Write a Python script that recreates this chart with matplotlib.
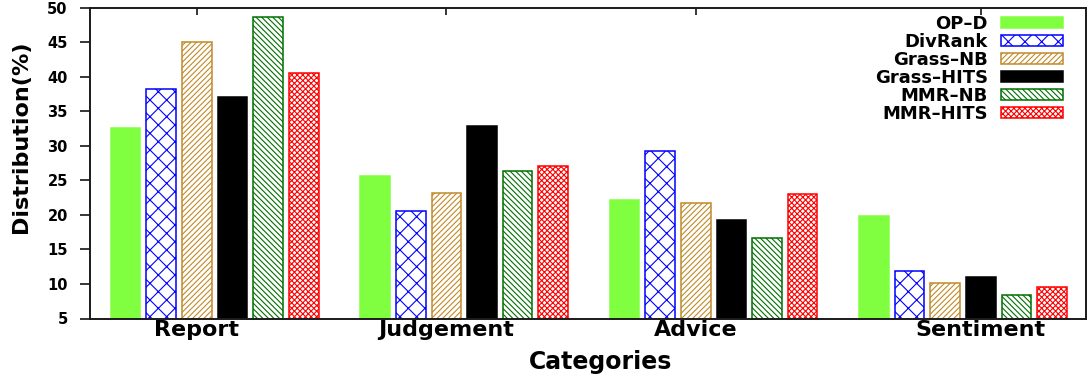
import matplotlib
matplotlib.use('Agg')
import matplotlib.pyplot as plt
import numpy as np

# ---- data ----
categories = ['Report', 'Judgement', 'Advice', 'Sentiment']
methods = ['OP–D', 'DivRank', 'Grass–NB', 'Grass–HITS', 'MMR–NB', 'MMR–HITS']
op_d = [32.6, 25.6, 22.1, 19.8]
divrank = [38.2, 20.6, 29.3, 11.9]
grass_nb = [45.0, 23.2, 21.7, 10.1]
grass_hits = [37.0, 32.9, 19.2, 11.0]
mmr_nb = [48.6, 26.4, 16.6, 8.4]
mmr_hits = [40.5, 27.0, 23.0, 9.5]
yticks = [5, 10, 15, 20, 25, 30, 35, 40, 45, 50]
tick_bar_index = [2, 2, 2, 3]   # which bar slot each category tick sits on

series = [op_d, divrank, grass_nb, grass_hits, mmr_nb, mmr_hits]

# ---- styles ----
faces = ['#80ff40', 'white', 'white', 'black', 'white', 'white']
edges = ['#80ff40', '#0000ff', '#c08a28', 'black', '#006f00', '#ff0000']
hatches = [None, 'xx', '//////', None, '\\\\\\\\\\\\', 'xxxxxx']

plt.rcParams['font.family'] = ['DejaVu Sans']
plt.rcParams['font.weight'] = 'bold'
plt.rcParams['hatch.linewidth'] = 0.8

W, H = 1089, 380
fig = plt.figure(figsize=(W / 100, H / 100), dpi=100)
ax = fig.add_axes([90 / W, (H - 318.5) / H, 996 / W, 311 / H])

group_step = 7
bar_w = 0.83
gx = np.arange(len(categories)) * group_step
for i, (vals, name) in enumerate(zip(series, methods)):
    ax.bar(gx + i, vals, width=bar_w, bottom=0, color=faces[i], edgecolor=edges[i],
           hatch=hatches[i], linewidth=1.1, label=name, zorder=2)

ax.set_ylim(5, 50)
ax.set_xlim(-1.0, gx[-1] + 5 + 0.95)
ax.set_yticks(yticks)
ax.set_yticklabels([str(v) for v in yticks])
ax.set_xticks(gx + np.array(tick_bar_index))
ax.set_xticklabels(categories)

for s in ax.spines.values():
    s.set_linewidth(1.4)
    s.set_color('#1a1a1a')

ax.tick_params(axis='y', direction='out', length=7, width=1.1, pad=9,
               labelsize=10.5, right=False, left=True)
ax.tick_params(axis='x', direction='in', length=5, width=1.1, pad=1,
               labelsize=16, bottom=False, top=True, labelbottom=True, labeltop=False)
for lab in ax.get_xticklabels() + ax.get_yticklabels():
    lab.set_fontweight('bold')

ax.set_xlabel('Categories', fontsize=17, fontweight='bold', va='center')
ax.xaxis.set_label_coords(0.513, -0.14)
ax.set_ylabel('Distribution(%)', fontsize=16, fontweight='bold', va='center')
ax.yaxis.set_label_coords(-0.0693, 0.584)

ax.legend(loc='upper right', bbox_to_anchor=(0.9766, 0.975), markerfirst=False,
          frameon=False, prop={'weight': 'bold', 'size': 13},
          handlelength=3.43, handleheight=0.55, handletextpad=0.72,
          labelspacing=0.0, borderpad=0, borderaxespad=0)

fig.savefig('out.png', dpi=100)
